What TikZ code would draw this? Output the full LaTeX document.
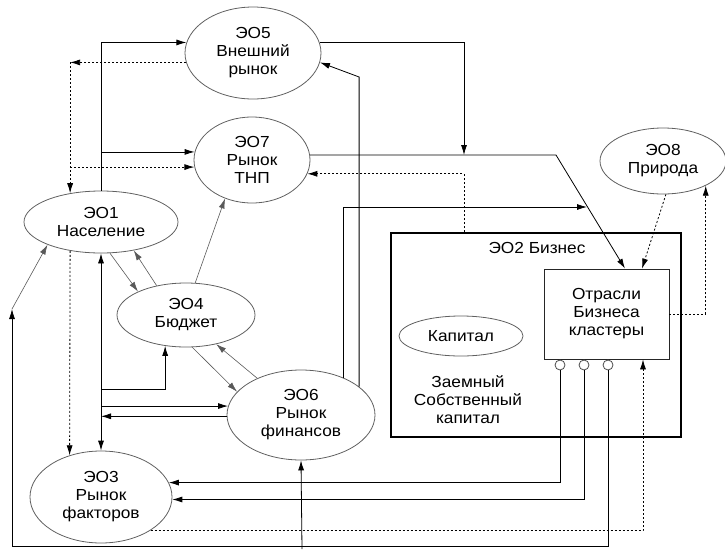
\documentclass[tikz,border=0pt]{standalone}
\usepackage{fontspec}
\setmainfont{Liberation Sans}[FakeStretch=1.08]
\usepackage{tikz}
\usetikzlibrary{arrows.meta,shapes}

\begin{document}
\begin{tikzpicture}[x=1pt,y=-1pt,>={Latex[length=10pt,width=6pt]}]
    \useasboundingbox (0,0) rectangle (725,549);
    \tikzstyle{eo}=[ellipse,draw=gray!75!black,line width=0.8pt,align=center,inner sep=0pt,font=\fontsize{16}{18}\selectfont]  % 椭圆节点
    \tikzstyle{format}=[rectangle,draw,line width=0.8pt,align=center,font=\fontsize{16}{18}\selectfont]  % 矩形块
    \tikzstyle{hole}=[circle,draw=gray!60!black,line width=0.8pt,fill=white,minimum size=10pt,inner sep=0pt]  % 小圆
    \tikzstyle{arrowline}=[line width=0.8pt]  % 实线
    \tikzstyle{dotline}=[line width=0.8pt,dash pattern=on 2pt off 2pt]  % 虚线
    \tikzstyle{greyline}=[line width=0.6pt,gray!70!black]  % 细灰线

    % 定义节点
    \node[eo,minimum width=136pt,minimum height=92pt](e5) at (253,53){ЭО5\\Внешний\\рынок};
    \node[eo,minimum width=116pt,minimum height=86pt](e7) at (252,160){ЭО7\\Рынок\\ТНП};
    \node[eo,minimum width=154pt,minimum height=62pt](e1) at (101,222){ЭО1\\Население};
    \node[eo,minimum width=138pt,minimum height=64pt](e4) at (186,315){ЭО4\\Бюджет};
    \node[eo,minimum width=148pt,minimum height=90pt](e6) at (301,415){ЭО6\\Рынок\\финансов};
    \node[eo,minimum width=142pt,minimum height=92pt](e3) at (101,497){ЭО3\\Рынок\\факторов};
    \node[eo,minimum width=126pt,minimum height=66pt](e8) at (663,161){ЭО8\\Природа};
    \node[format,line width=2pt,minimum width=290pt,minimum height=204pt](biz) at (536,335){};
    \node[font=\fontsize{16}{18}\selectfont](biztxt) at (537,248){ЭО2 Бизнес};
    \node[format,draw=gray!30!black,minimum width=125pt,minimum height=90pt](otr) at (606.5,314){Отрасли\\Бизнеса\\кластеры};
    \node[eo,minimum width=124pt,minimum height=40pt](kap) at (461,336){Капитал};
    \node[align=center,font=\fontsize{16}{18}\selectfont](zk) at (468,400){Заемный\\Собственный\\капитал};
    \node[hole](c1) at (560,365){};
    \node[hole](c2) at (584,365){};
    \node[hole](c3) at (608,365){};

    % 转折点
    \coordinate (k1) at (556,155);
    \coordinate (k2) at (464,155);
    \coordinate (k3) at (587,207);
    \coordinate (lp) at (12,309);
    \coordinate (lb) at (12,546);
    \coordinate (b6) at (302,549);

    % 开始画线
    \draw[arrowline,->](e1.north) |- (e5.171);
    \draw[arrowline,->](e1.north |- e7.172) -- (e7.172);
    \draw[dotline,->](e5.188) -- (e5.188 -| e1.137);
    \draw[dotline,->](e5.188 -| e1.137) -- (e1.137);
    \draw[dotline,->](e1.137 |- e7.187) -- (e7.187);
    \draw[arrowline,->](e5.9) -| (k2);
    \draw[arrowline,->](e7.5) -- (k1) -- (otr.north -| 625,0);
    \draw[dotline,->](biz.north -| 464,0) |- (e7.346);
    \draw[arrowline,->](e6.41) |- (k3);
    \draw[arrowline,->](e6.26) -- (e6.26 |- 0,77) -- (e5.352);
    \draw[dotline,->](e8.275) -- (otr.north -| 642,0);
    \draw[dotline,->](otr.east) -| (e8.330);
    \draw[greyline,->](e1.286) -- (e4.154);
    \draw[greyline,->](e4.135) -- (e1.319);
    \draw[greyline,->](e4.74) -- (e7.235);
    \draw[greyline,->](e4.281) -- (e6.160);
    \draw[greyline,->](e6.140) -- (e4.316);
    \draw[arrowline,<->](e1.south) -- (e3.north);
    \draw[dotline,->](e1.223) -- (e3.127);
    \draw[arrowline,->](e1.south |- 0,389) -| (e4.236);
    \draw[arrowline,->](e6.173 -| e1.south) -- (e6.173);
    \draw[arrowline,->](e6.181) -- (e6.181 -| e1.south);
    \draw[arrowline,->](c1.south) |- (e3.12);
    \draw[arrowline,->](c2.south) |- (e3.358);
    \draw[dotline,->](e3.326) -| (otr.south -| 643,0);
    \draw[arrowline,->](b6) -- (e6.south);
    \draw[arrowline,->](c3.south) |- (lb) -- (lp);
    \draw[greyline,->](lp) -- (e1.203);
\end{tikzpicture}
\end{document}
